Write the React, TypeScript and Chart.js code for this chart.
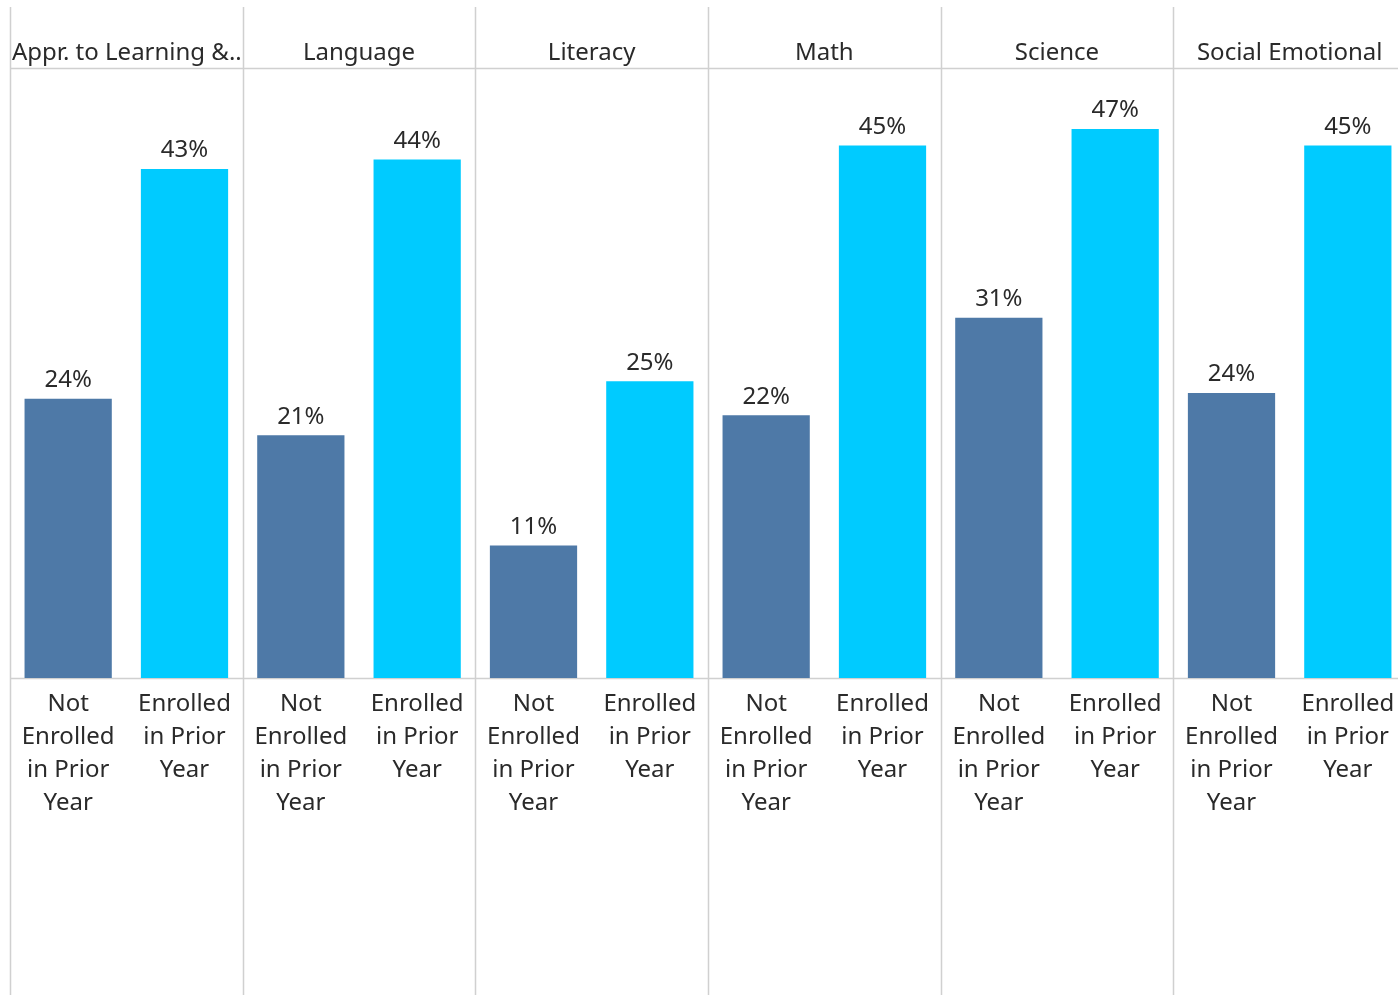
import React, { useEffect, useRef } from "react";
import { Chart, registerables } from "chart.js";

Chart.register(...registerables);

const categories = ["Appr. to Learning &..", "Language", "Literacy", "Math", "Science", "Social Emotional"];
const seriesNames = ["Not Enrolled in Prior Year", "Enrolled in Prior Year"];
const notEnrolled = [23.8, 20.7, 11.3, 22.4, 30.7, 24.3];
const enrolled = [43.4, 44.2, 25.3, 45.4, 46.8, 45.4];
const subLabels = [
  ["Not", "Enrolled", "in Prior", "Year"],
  ["Enrolled", "in Prior", "Year"],
];
const colors = ["#4e79a7", "#00cbff"];

const FONT = "'Noto Sans', 'Open Sans', sans-serif";
const TEXT = "#2a2a2a";
const LINE = "#d0d0d0";

const decorPlugin = {
  id: "decor",
  beforeDatasetsDraw(chart: any) {
    const { ctx, chartArea } = chart;
    const { left, right, top, bottom } = chartArea;
    const n = categories.length;
    const w = (right - left) / n;
    ctx.save();
    ctx.strokeStyle = LINE;
    ctx.lineWidth = 1.5;
    for (let i = 0; i < n; i++) {
      const x = Math.round(left + i * w) + 0.5;
      ctx.beginPath();
      ctx.moveTo(x, 7);
      ctx.lineTo(x, 995);
      ctx.stroke();
    }
    ctx.beginPath();
    ctx.moveTo(left, top + 0.5);
    ctx.lineTo(chart.width, top + 0.5);
    ctx.moveTo(left, bottom + 0.5);
    ctx.lineTo(chart.width, bottom + 0.5);
    ctx.stroke();
    ctx.restore();
  },
  afterDraw(chart: any) {
    const { ctx, chartArea } = chart;
    const { left, right, bottom } = chartArea;
    const n = categories.length;
    const w = (right - left) / n;
    ctx.save();
    ctx.fillStyle = TEXT;
    ctx.font = `24px ${FONT}`;
    ctx.textBaseline = "middle";
    categories.forEach((c, i) => {
      if (i === 0) {
        ctx.textAlign = "left";
        ctx.fillText(c, left + 2, 53);
      } else {
        ctx.textAlign = "center";
        ctx.fillText(c, left + i * w + w / 2, 53);
      }
    });
    ctx.textAlign = "center";
    chart.data.datasets.forEach((ds: any, di: number) => {
      const meta = chart.getDatasetMeta(di);
      meta.data.forEach((bar: any, i: number) => {
        const v = ds.data[i];
        ctx.fillText(Math.round(v) + "%", bar.x, bar.y - 18.5);
        subLabels[di].forEach((line, li) => {
          ctx.fillText(line, bar.x, bottom + 26 + li * 33);
        });
      });
    });
    ctx.restore();
  },
};

export default function App() {
  const ref = useRef<HTMLCanvasElement>(null);
  useEffect(() => {
    if (!ref.current) return;
    const chart = new Chart(ref.current, {
      type: "bar",
      data: {
        labels: categories,
        datasets: [
          { label: seriesNames[0], data: notEnrolled, backgroundColor: colors[0], categoryPercentage: 1, barPercentage: 0.75 },
          { label: seriesNames[1], data: enrolled, backgroundColor: colors[1], categoryPercentage: 1, barPercentage: 0.75 },
        ],
      },
      options: {
        animation: false,
        responsive: false,
        maintainAspectRatio: false,
        layout: { padding: { left: 10, right: 4, top: 68, bottom: 319 } },
        plugins: { legend: { display: false }, tooltip: { enabled: false } },
        scales: {
          x: { display: false, offset: true },
          y: { display: false, min: 0, max: 52 },
        },
      },
      plugins: [decorPlugin],
    });
    return () => chart.destroy();
  }, []);
  return (
    <div style={{ position: "fixed", left: 0, top: 0, width: 1398, height: 997, overflow: "hidden", background: "#fff" }}>
      <canvas ref={ref} width={1410} height={997} style={{ display: "block", width: 1410, height: 997 }} />
    </div>
  );
}
